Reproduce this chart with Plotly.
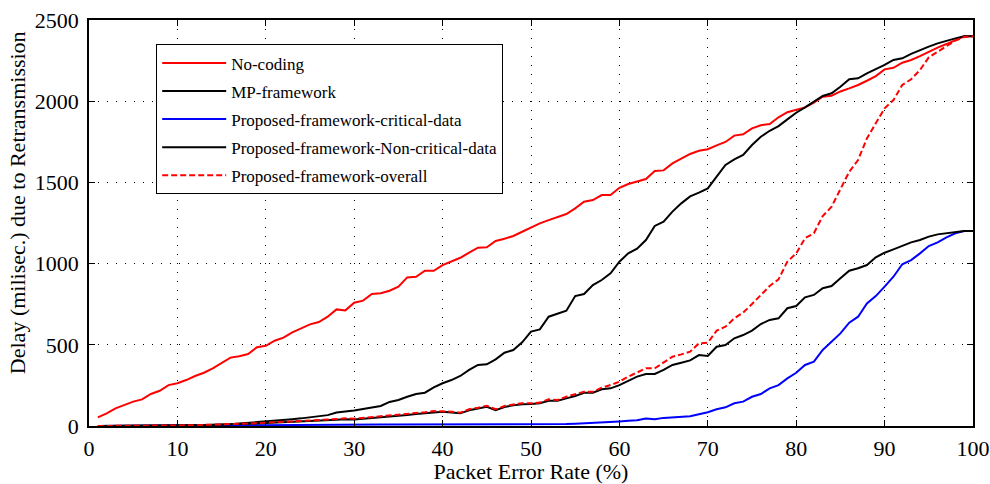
import plotly.graph_objects as go

per = list(range(1, 101))

no_coding = [53, 78, 109, 129, 150, 164, 197, 217, 252, 263,
             283, 308, 328, 355, 390, 421, 430, 443, 485, 494,
             525, 544, 577, 601, 626, 640, 673, 718, 712, 759,
             772, 813, 817, 833, 858, 915, 919, 956, 956, 991,
             1016, 1036, 1067, 1098, 1100, 1139, 1153, 1170, 1196, 1223,
             1248, 1268, 1285, 1305, 1340, 1381, 1391, 1422, 1422, 1467,
             1490, 1505, 1521, 1570, 1574, 1617, 1644, 1675, 1695, 1704,
             1728, 1749, 1788, 1796, 1833, 1852, 1860, 1901, 1932, 1946,
             1962, 1991, 2028, 2034, 2060, 2079, 2100, 2126, 2155, 2196,
             2206, 2237, 2254, 2278, 2305, 2330, 2352, 2377, 2400, 2400]

mp_framework = [0, 0, 0, 0, 0, 0, 0, 1, 2, 3,
                4, 5, 6, 7, 9, 11, 15, 19, 22, 28,
                33, 37, 42, 47, 53, 58, 67, 83, 87, 95,
                105, 115, 123, 148, 160, 180, 197, 205, 238, 263,
                283, 308, 345, 376, 380, 410, 451, 468, 515, 581,
                595, 673, 690, 710, 800, 813, 868, 899, 940, 1012,
                1063, 1092, 1145, 1232, 1258, 1320, 1371, 1414, 1437, 1463,
                1535, 1607, 1642, 1669, 1730, 1781, 1818, 1847, 1888, 1929,
                1962, 1997, 2032, 2049, 2089, 2135, 2141, 2172, 2196, 2223,
                2254, 2264, 2291, 2315, 2336, 2356, 2373, 2387, 2400, 2400]

critical = [0, 0, 0, 1, 1, 1, 1, 2, 2, 2,
            2, 3, 3, 3, 3, 4, 4, 4, 5, 5,
            5, 5, 6, 6, 6, 7, 7, 7, 8, 8,
            8, 9, 9, 10, 10, 10, 11, 11, 11, 12,
            12, 12, 12, 12, 12, 11, 10, 9, 8, 8,
            8, 9, 10, 12, 14, 16, 19, 22, 25, 28,
            32, 36, 46, 42, 50, 53, 56, 60, 72, 85,
            103, 115, 140, 150, 180, 197, 232, 252, 293, 328,
            376, 396, 468, 519, 570, 636, 673, 755, 800, 858,
            919, 996, 1022, 1063, 1108, 1131, 1162, 1187, 1200, 1200]

non_critical = [0, 0, 0, 0, 1, 1, 1, 2, 2, 3,
                3, 4, 5, 6, 7, 9, 11, 13, 15, 18,
                20, 22, 25, 28, 30, 33, 35, 38, 42, 40,
                45, 49, 52, 58, 64, 68, 74, 80, 86, 88,
                83, 78, 97, 107, 118, 98, 117, 127, 134, 136,
                140, 156, 156, 170, 185, 205, 205, 226, 232, 252,
                277, 304, 320, 320, 345, 376, 390, 404, 437, 431,
                488, 499, 540, 560, 587, 628, 653, 663, 725, 739,
                792, 807, 848, 862, 910, 956, 971, 991, 1039, 1067,
                1088, 1110, 1131, 1145, 1166, 1180, 1187, 1196, 1200, 1200]

overall = [0, 0, 0, 1, 1, 1, 2, 2, 3, 3,
           4, 5, 6, 7, 9, 11, 13, 15, 18, 22,
           24, 26, 28, 32, 35, 37, 40, 43, 47, 45,
           50, 54, 57, 62, 68, 72, 78, 85, 92, 92,
           88, 82, 103, 113, 125, 103, 123, 133, 140, 140,
           144, 164, 160, 181, 195, 211, 211, 236, 252, 273,
           304, 328, 355, 355, 390, 427, 441, 458, 509, 513,
           587, 611, 663, 698, 751, 807, 862, 903, 1012, 1063,
           1156, 1187, 1293, 1350, 1460, 1566, 1638, 1771, 1864, 1956,
           2007, 2100, 2135, 2192, 2270, 2305, 2340, 2373, 2395, 2400]

x_ticks = list(range(0, 101, 10))
y_ticks = list(range(0, 2501, 500))

x_title = "Packet Error Rate (%)"
y_title = "Delay (milisec.) due to Retransmission"

series = [
    ("No-coding", no_coding, "#ff0000", "solid"),
    ("MP-framework", mp_framework, "#000000", "solid"),
    ("Proposed-framework-critical-data", critical, "#0000ff", "solid"),
    ("Proposed-framework-Non-critical-data", non_critical, "#000000", "solid"),
    ("Proposed-framework-overall", overall, "#ff0000", "6px,3px"),
]

fig = go.Figure()
for i, (name, vals, col, dash) in enumerate(series):
    fig.add_trace(go.Scatter(x=per, y=vals, mode="lines", name=name,
                             legendgroup=f"g{i}",
                             line=dict(color=col, width=2, dash=dash)))

font = "Liberation Serif, Times New Roman, serif"
axis_common = dict(
    showline=True, linecolor="black", linewidth=1.5, mirror="ticks",
    ticks="inside", ticklen=6, tickcolor="black", tickwidth=1,
    showgrid=True, gridcolor="black", gridwidth=1, griddash="1px,8px",
    zeroline=False, automargin=False,
    tickfont=dict(family=font, size=22, color="black"),
)

fig.update_layout(
    width=990, height=484,
    margin=dict(l=89, r=17, t=20, b=58),
    paper_bgcolor="white", plot_bgcolor="white",
    font=dict(family=font, color="black"),
    showlegend=True,
    legend=dict(x=0.076, y=0.94, xanchor="left", yanchor="top",
                bgcolor="white", bordercolor="black", borderwidth=1,
                font=dict(family=font, size=17, color="black"),
                itemwidth=64, tracegroupgap=3, traceorder="grouped",
                entrywidth=390, entrywidthmode="pixels"),
    xaxis=dict(range=[0, 100], tickvals=x_ticks, ticklabelstandoff=2,
               title=dict(text=x_title, standoff=4,
                          font=dict(family=font, size=22, color="black")),
               **axis_common),
    yaxis=dict(range=[0, 2500], tickvals=y_ticks, ticklabelstandoff=4,
               **axis_common),
    annotations=[dict(text=y_title, xref="paper", yref="paper",
                      x=-0.0814, y=0.549, xanchor="center", yanchor="middle",
                      textangle=-90, showarrow=False,
                      font=dict(family=font, size=22, color="black"))],
    hovermode=False,
)

fig.write_html("out.html")
